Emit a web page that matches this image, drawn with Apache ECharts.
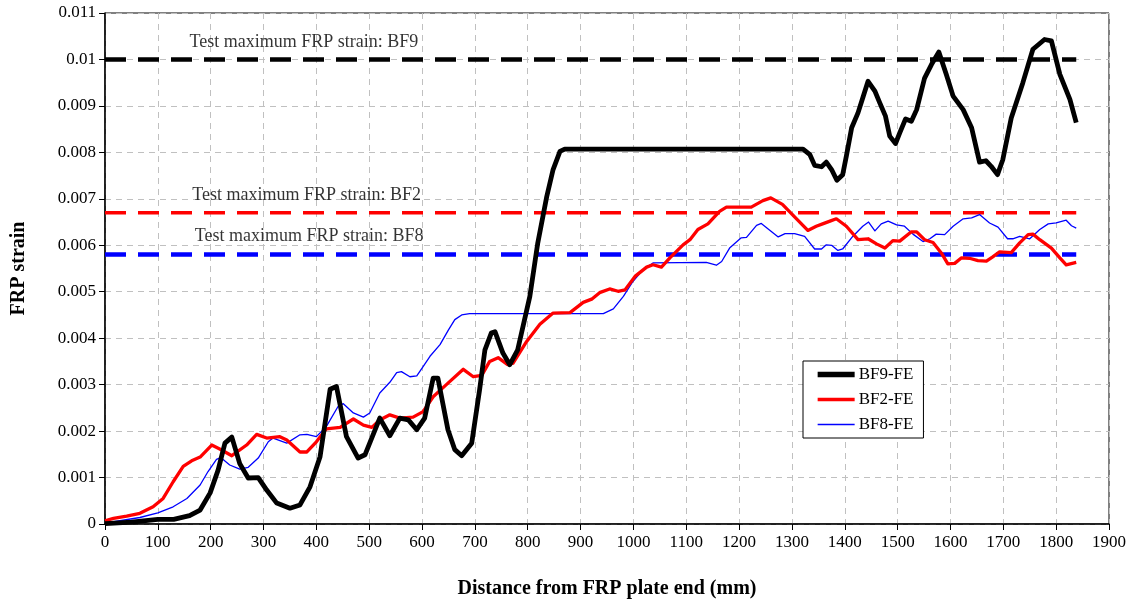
<!DOCTYPE html>
<html>
<head>
<meta charset="utf-8">
<script src="https://cdn.jsdelivr.net/npm/echarts@6/dist/echarts.min.js"></script>
<style>
  html, body { margin: 0; padding: 0; background: #fff; }
  #chart { width: 1138px; height: 606px; }
</style>
</head>
<body>
<div id="chart"></div>
<script>
// FE strain distributions along the FRP plate, [distance (mm), strain]
const bf9 = [[0,0.00001],[50,0.00004],[100,0.0001],[130,0.0001],[160,0.00018],[180,0.0003],[199,0.00067],[214,0.00116],[227,0.00174],[240,0.00187],[255,0.0013],[271,0.00099],[290,0.001],[306,0.00073],[325,0.00045],[350,0.00034],[369,0.00041],[388,0.0008],[407,0.00145],[426,0.0029],[438,0.00296],[457,0.00188],[479,0.00142],[492,0.00149],[520,0.00228],[539,0.0019],[558,0.00228],[574,0.00224],[590,0.00203],[605,0.00228],[621,0.00314],[630,0.00314],[649,0.00203],[662,0.0016],[675,0.00147],[694,0.00174],[709,0.0029],[719,0.00375],[731,0.00411],[738,0.00414],[753,0.00368],[766,0.00343],[781,0.00375],[804,0.0049],[819,0.00605],[836,0.00705],[848,0.00763],[861,0.00802],[870,0.00807],[1321,0.00807],[1334,0.00795],[1343,0.00772],[1356,0.00769],[1365,0.00779],[1375,0.00763],[1385,0.0074],[1396,0.00752],[1403,0.00792],[1413,0.00853],[1425,0.00885],[1435,0.00921],[1444,0.00953],[1457,0.00932],[1466,0.00907],[1477,0.00878],[1485,0.00835],[1496,0.00819],[1504,0.00842],[1515,0.00872],[1526,0.00867],[1536,0.00892],[1551,0.0096],[1564,0.00989],[1578,0.01016],[1592,0.00968],[1605,0.00921],[1624,0.00892],[1640,0.00853],[1655,0.00779],[1667,0.00782],[1677,0.0077],[1689,0.00752],[1699,0.00784],[1715,0.00874],[1737,0.0095],[1756,0.01022],[1778,0.01043],[1791,0.0104],[1807,0.00968],[1826,0.00914],[1838,0.00864]];

const bf2 = [[0,0.00007],[16,0.00012],[41,0.00017],[66,0.00023],[91,0.00037],[110,0.00055],[129,0.00091],[148,0.00124],[164,0.00136],[180,0.00144],[202,0.0017],[218,0.00161],[240,0.00147],[268,0.0017],[287,0.00193],[306,0.00185],[331,0.00188],[344,0.00181],[369,0.00155],[382,0.00155],[400,0.00177],[419,0.00205],[445,0.00208],[470,0.00226],[489,0.00213],[505,0.00208],[520,0.00224],[539,0.00235],[558,0.00228],[583,0.0023],[602,0.00242],[621,0.00274],[646,0.003],[678,0.00333],[697,0.00317],[713,0.0032],[728,0.0035],[744,0.00358],[762,0.00343],[772,0.00346],[798,0.00393],[823,0.0043],[848,0.00454],[880,0.00455],[905,0.00477],[921,0.00484],[936,0.00498],[955,0.00506],[971,0.00501],[984,0.00504],[1003,0.00533],[1025,0.00553],[1037,0.00558],[1053,0.00553],[1069,0.00573],[1094,0.00601],[1107,0.00612],[1122,0.00634],[1141,0.00646],[1163,0.00673],[1176,0.00682],[1223,0.00682],[1245,0.00696],[1260,0.00702],[1282,0.00688],[1305,0.00661],[1330,0.00632],[1346,0.00641],[1358,0.00646],[1372,0.00652],[1384,0.00657],[1403,0.00641],[1425,0.00612],[1444,0.00614],[1460,0.00603],[1476,0.00594],[1491,0.0061],[1504,0.00609],[1526,0.00629],[1536,0.00629],[1551,0.00612],[1567,0.00606],[1583,0.00583],[1595,0.0056],[1608,0.00561],[1621,0.00573],[1636,0.00572],[1652,0.00567],[1668,0.00566],[1680,0.00575],[1693,0.00586],[1715,0.00584],[1731,0.00605],[1747,0.00623],[1756,0.00624],[1769,0.00612],[1791,0.00594],[1807,0.00573],[1819,0.00558],[1838,0.00563]];

const bf8 = [[0,0.00002],[28,0.00007],[66,0.00014],[100,0.00024],[129,0.00037],[155,0.00055],[180,0.00084],[195,0.00113],[211,0.00139],[219,0.00143],[236,0.00127],[255,0.00118],[271,0.00122],[290,0.00142],[309,0.00177],[318,0.00185],[344,0.00174],[369,0.00192],[382,0.00193],[400,0.00188],[419,0.0021],[441,0.00253],[451,0.00259],[470,0.00239],[489,0.0023],[501,0.00239],[520,0.00282],[539,0.00305],[552,0.00326],[561,0.00328],[577,0.00317],[590,0.00319],[602,0.00339],[615,0.00361],[634,0.00386],[650,0.00418],[662,0.0044],[675,0.0045],[690,0.00453],[943,0.00453],[962,0.00463],[981,0.0049],[999,0.00522],[1018,0.00547],[1037,0.00562],[1138,0.00563],[1157,0.00557],[1167,0.00565],[1182,0.00594],[1204,0.00616],[1214,0.00617],[1233,0.00643],[1242,0.00647],[1255,0.00635],[1274,0.00618],[1287,0.00625],[1305,0.00625],[1324,0.00619],[1343,0.00592],[1356,0.00592],[1365,0.00601],[1375,0.006],[1387,0.00589],[1396,0.00592],[1415,0.00619],[1434,0.00641],[1445,0.0065],[1457,0.00631],[1469,0.00646],[1482,0.00652],[1498,0.00644],[1513,0.00641],[1529,0.00624],[1548,0.00608],[1561,0.00614],[1573,0.00624],[1589,0.00623],[1605,0.00641],[1624,0.00657],[1640,0.00659],[1655,0.00666],[1674,0.00648],[1690,0.00639],[1708,0.00614],[1718,0.00614],[1731,0.00619],[1750,0.00614],[1769,0.00634],[1785,0.00646],[1800,0.00648],[1819,0.00654],[1829,0.00642],[1838,0.00637]];

// Measured maximum strains from the tests (horizontal reference lines)
const testMaxBF9 = 0.010;
const testMaxBF2 = 0.0067;
const testMaxBF8 = 0.0058;
const refLineEnd = 1838;

// Annotation texts: [x, y, text]
const refLabels = [
  [160, 0.01037, 'Test maximum FRP strain: BF9'],
  [165, 0.00707, 'Test maximum FRP strain: BF2'],
  [170, 0.00619, 'Test maximum FRP strain: BF8']
];

const seriesNames = ['BF9-FE', 'BF2-FE', 'BF8-FE'];
const seriesColors = ['#000000', '#ff0000', '#0000ff'];
const seriesWidths = [4.8, 3.3, 1.3];

const FONT = '"Liberation Serif", "Times New Roman", serif';

function refLine(value, color, width) {
  return {
    type: 'line',
    data: [[0, value], [refLineEnd, value]],
    symbol: 'none',
    silent: true,
    z: 1,
    lineStyle: { color: color, width: width, type: [21, 12] }
  };
}

function feLine(idx, data, z) {
  return {
    name: seriesNames[idx], type: 'line', data: data, symbol: 'none', z: z,
    lineStyle: { color: seriesColors[idx], width: seriesWidths[idx], join: 'round' },
    itemStyle: { color: seriesColors[idx] }
  };
}

const chart = echarts.init(document.getElementById('chart'), null, { renderer: 'canvas' });

chart.setOption({
  animation: false,
  backgroundColor: '#fff',
  textStyle: { fontFamily: FONT, color: '#000' },
  grid: {
    left: 105, right: 29, top: 13, bottom: 82,
    show: true, borderColor: '#000', borderWidth: 1, backgroundColor: 'transparent'
  },
  legend: {
    data: seriesNames.map((n, i) => ({
      name: n,
      itemStyle: { opacity: 0 },
      lineStyle: { color: seriesColors[i], width: seriesWidths[i] + (i === 0 ? 0.5 : 0.3), opacity: 1 }
    })),
    orient: 'vertical',
    left: 803, top: 361,
    padding: [5, 10, 5, 12],
    itemWidth: 37, itemHeight: 14, itemGap: 8,
    borderColor: '#000', borderWidth: 1,
    backgroundColor: '#fff',
    textStyle: { fontFamily: FONT, fontSize: 17, color: '#000', padding: [0, 0, 0, -1] }
  },
  xAxis: {
    type: 'value', min: 0, max: 1900, interval: 100,
    name: 'Distance from FRP plate end (mm)',
    nameLocation: 'middle', nameGap: 55,
    nameTextStyle: { fontFamily: FONT, fontSize: 20, fontWeight: 'bold', color: '#000' },
    axisLine: { lineStyle: { color: '#000', width: 1.5 } },
    axisTick: { show: true, length: 6, lineStyle: { color: '#000' } },
    axisLabel: { fontFamily: FONT, fontSize: 17, color: '#000', margin: 10, formatter: v => String(v) },
    splitLine: { show: true, lineStyle: { color: '#c0c0c0', type: [6, 5], width: 1 } }
  },
  yAxis: {
    type: 'value', min: 0, max: 0.011, interval: 0.001,
    name: 'FRP strain',
    nameLocation: 'middle', nameGap: 76,
    nameTextStyle: { fontFamily: FONT, fontSize: 20, fontWeight: 'bold', color: '#000' },
    axisLine: { show: true, lineStyle: { color: '#000', width: 1.5 } },
    axisTick: { show: true, length: 6, lineStyle: { color: '#000' } },
    axisLabel: {
      fontFamily: FONT, fontSize: 17, color: '#000', margin: 9,
      formatter: v => String(parseFloat(v.toFixed(3)))
    },
    splitLine: { show: true, lineStyle: { color: '#c0c0c0', type: [6, 5], width: 1 } }
  },
  series: [
    refLine(testMaxBF9, '#000000', 4.5),
    refLine(testMaxBF2, '#ff0000', 3.5),
    refLine(testMaxBF8, '#0000ff', 4.5),
    {
      type: 'scatter',
      data: refLabels,
      symbolSize: 0,
      silent: true,
      z: 5,
      label: {
        show: true, position: 'right', distance: 0,
        formatter: p => p.data[2],
        fontFamily: FONT, fontSize: 18, color: '#000'
      }
    },
    feLine(2, bf8, 2),
    feLine(1, bf2, 3),
    feLine(0, bf9, 4)
  ]
});
</script>
</body>
</html>
